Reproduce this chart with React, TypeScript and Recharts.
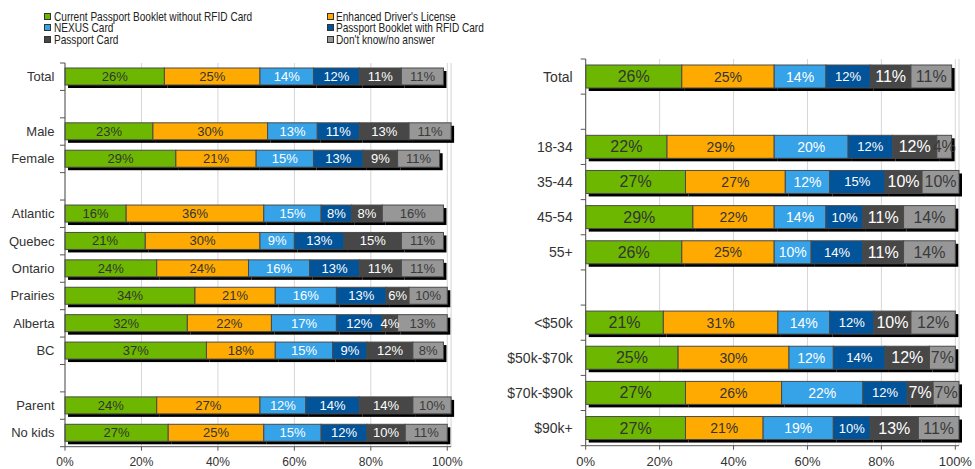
import React from 'react';
import { BarChart, Bar, XAxis, YAxis, CartesianGrid, LabelList } from 'recharts';

// ---------- Data ----------
const seriesNames = [
  'Current Passport Booklet without RFID Card',
  "Enhanced Driver's License",
  'NEXUS Card',
  'Passport Booklet with RFID Card',
  'Passport Card',
  "Don't know/no answer",
];
const seriesKeys = ['booklet', 'edl', 'nexus', 'rfid', 'card', 'dk'];
const seriesColors = ['#6db700', '#ffaa00', '#36a2e8', '#02549a', '#474747', '#979797'];
const seriesTextColors = ['#333333', '#333333', '#ffffff', '#ffffff', '#ffffff', '#3a3a3a'];
const rightLabelSizes = [16, 14, 14, 13, 16, 16];

const xTicks = [0, 20, 40, 60, 80, 100];

const leftCategories = ['Total', '', 'Male', 'Female', '', 'Atlantic', 'Quebec', 'Ontario', 'Prairies', 'Alberta', 'BC', '', 'Parent', 'No kids'];
const leftBooklet = [26, null, 23, 29, null, 16, 21, 24, 34, 32, 37, null, 24, 27];
const leftEDL = [25, null, 30, 21, null, 36, 30, 24, 21, 22, 18, null, 27, 25];
const leftNexus = [14, null, 13, 15, null, 15, 9, 16, 16, 17, 15, null, 12, 15];
const leftRfid = [12, null, 11, 13, null, 8, 13, 13, 13, 12, 9, null, 14, 12];
const leftCard = [11, null, 13, 9, null, 8, 15, 11, 6, 4, 12, null, 14, 10];
const leftDontKnow = [11, null, 11, 11, null, 16, 11, 11, 10, 13, 8, null, 10, 11];

const rightCategories = ['Total', '', '18-34', '35-44', '45-54', '55+', '', '<$50k', '$50k-$70k', '$70k-$90k', '$90k+'];
const rightBooklet = [26, null, 22, 27, 29, 26, null, 21, 25, 27, 27];
const rightEDL = [25, null, 29, 27, 22, 25, null, 31, 30, 26, 21];
const rightNexus = [14, null, 20, 12, 14, 10, null, 14, 12, 22, 19];
const rightRfid = [12, null, 12, 15, 10, 14, null, 12, 14, 12, 10];
const rightCard = [11, null, 12, 10, 11, 11, null, 10, 12, 7, 13];
const rightDontKnow = [11, null, 4, 10, 14, 14, null, 12, 7, 7, 11];

const buildRows = (cats: string[], cols: (number | null)[][]) =>
  cats.map((name, i) => {
    const row: any = { name };
    seriesKeys.forEach((k, j) => {
      row[k] = cols[j][i];
    });
    return row;
  });

const leftRows = buildRows(leftCategories, [leftBooklet, leftEDL, leftNexus, leftRfid, leftCard, leftDontKnow]);
const rightRows = buildRows(rightCategories, [rightBooklet, rightEDL, rightNexus, rightRfid, rightCard, rightDontKnow]);

const FONT = "'Liberation Sans', Arial, sans-serif";
const AXIS = '#555555';

// ---------- Shapes ----------
const SegShape = (props: any) => {
  const { x, y, width, height, fill } = props;
  if (!width || width <= 0 || !height) return null;
  return (
    <g>
      <rect x={x + 3} y={y + 3} width={width} height={height} fill="#000" />
      <rect x={x} y={y} width={width} height={height} fill={fill} stroke="#4a4a4a" strokeWidth={1} />
    </g>
  );
};

const makeLabel = (color: string, size: number) => (props: any) => {
  const vb = props.viewBox || props;
  const { value } = props;
  if (value == null || value === 0) return null;
  const x = vb.x ?? props.x;
  const y = vb.y ?? props.y;
  const w = vb.width ?? props.width;
  const h = vb.height ?? props.height;
  return (
    <text
      x={x + w / 2}
      y={y + h / 2}
      textAnchor="middle"
      dominantBaseline="central"
      fill={color}
      fontSize={size}
      fontFamily={FONT}
    >
      {value}%
    </text>
  );
};

const makeYTick = (band: number, gap: number, fontSize: number, total: number) => (props: any) => {
  const { x, y, payload, index } = props;
  const ax = x + gap;
  return (
    <g>
      <line x1={ax - 5} x2={ax} y1={y - band / 2} y2={y - band / 2} stroke={AXIS} />
      {index === total - 1 && <line x1={ax - 5} x2={ax} y1={y + band / 2} y2={y + band / 2} stroke={AXIS} />}
      <text x={x} y={y} textAnchor="end" dominantBaseline="central" fontSize={fontSize} fill="#333" fontFamily={FONT}>
        {payload.value}
      </text>
    </g>
  );
};

// ---------- Layout ----------
const L = { left: 0, width: 470, top: 63, yAxisW: 65, xAxisH: 22, bottom: 0.3, right: 470 - 65 - 386.1, barSize: 17, gap: 10.5, cat: 13, tick: 12, tickMargin: 7 };
const R = { left: 500, width: 475, top: 59, yAxisW: 85.7, xAxisH: 23, bottom: 0.3, right: 475 - 85.7 - 373.3, barSize: 23, gap: 13, cat: 14, tick: 13, tickMargin: 7 };

const StackedChart = ({ rows, cats, cfg, labelSizes }: any) => {
  const plotH = 469 - cfg.top - cfg.bottom - cfg.xAxisH;
  const band = plotH / cats.length;
  return (
    <div style={{ position: 'absolute', left: cfg.left, top: 0 }}>
      <BarChart
        width={cfg.width}
        height={469}
        data={rows}
        layout="vertical"
        margin={{ top: cfg.top, right: cfg.right, bottom: cfg.bottom, left: 0 }}
        barSize={cfg.barSize}
      >
        <CartesianGrid horizontal={false} stroke="#d6d6d6" />
        <XAxis
          type="number"
          domain={[0, 101]}
          ticks={xTicks}
          tickFormatter={(v: number) => `${v}%`}
          height={cfg.xAxisH}
          tickSize={4}
          tickMargin={cfg.tickMargin}
          stroke={AXIS}
          tick={{ fill: '#333', fontSize: cfg.tick, fontFamily: FONT }}
        />
        <YAxis
          type="category"
          dataKey="name"
          width={cfg.yAxisW}
          interval={0}
          tickLine={false}
          tickSize={0}
          tickMargin={cfg.gap}
          stroke={AXIS}
          tick={makeYTick(band, cfg.gap, cfg.cat, cats.length)}
        />
        {seriesKeys.map((k, i) => (
          <Bar
            key={k}
            dataKey={k}
            name={seriesNames[i]}
            stackId="s"
            fill={seriesColors[i]}
            shape={SegShape}
            isAnimationActive={false}
          >
            <LabelList dataKey={k} content={makeLabel(seriesTextColors[i], labelSizes[i])} />
          </Bar>
        ))}
      </BarChart>
    </div>
  );
};

const Legend = () => (
  <>
    {seriesNames.map((n, i) => {
      const col = i % 2;
      const row = Math.floor(i / 2);
      return (
        <div
          key={n}
          style={{
            position: 'absolute',
            left: col === 0 ? 44 : 326.5,
            top: 9.5 + row * 11.7,
            height: 13,
            display: 'flex',
            alignItems: 'center',
            whiteSpace: 'nowrap',
          }}
        >
          <div
            style={{
              width: 7,
              height: 7,
              boxSizing: 'border-box',
              border: '1px solid #333',
              background: seriesColors[i],
            }}
          />
          <span
            style={{
              display: 'inline-block',
              marginLeft: 2.5,
              fontSize: 13,
              lineHeight: '13px',
              color: '#222',
              transform: 'scaleX(0.775)',
              transformOrigin: 'left center',
            }}
          >
            {n}
          </span>
        </div>
      );
    })}
  </>
);

export default function App() {
  return (
    <div
      style={{
        position: 'absolute',
        left: 0,
        top: 0,
        width: 975,
        height: 469,
        background: '#fff',
        fontFamily: FONT,
        overflow: 'hidden',
      }}
    >
      <Legend />
      <StackedChart rows={leftRows} cats={leftCategories} cfg={L} labelSizes={[13, 13, 13, 13, 13, 13]} />
      <StackedChart rows={rightRows} cats={rightCategories} cfg={R} labelSizes={rightLabelSizes} />
    </div>
  );
}
